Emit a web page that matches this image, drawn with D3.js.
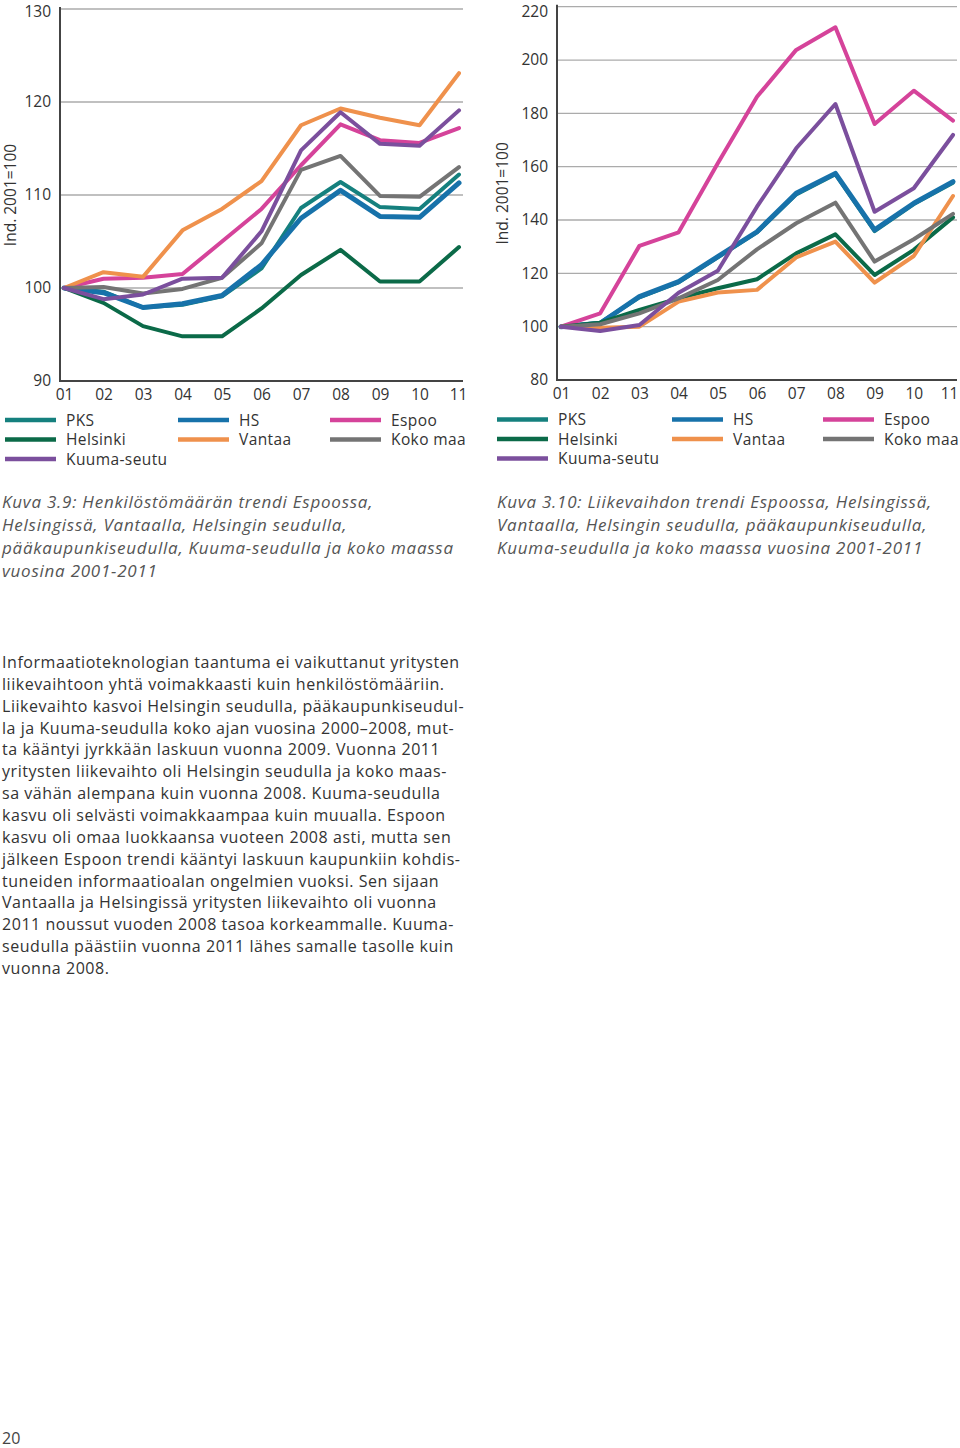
<!DOCTYPE html>
<html>
<head>
<meta charset="utf-8">
<script src="https://cdn.jsdelivr.net/npm/d3@7"></script>
<style>
  html, body { margin: 0; padding: 0; background: #fff; }
  svg { display: block; font-family: "Open Sans", "DejaVu Sans", sans-serif; }
</style>
</head>
<body>
<svg id="page" width="960" height="1448"></svg>
<script>
// vuodet 2001-2011
const years = ["01", "02", "03", "04", "05", "06", "07", "08", "09", "10", "11"];

// Kuva 3.9 henkilöstömäärä, ind. 2001=100
const staffPKS = [100, 99.6, 97.9, 98.2, 99.1, 102.1, 108.6, 111.4, 108.7, 108.5, 112.2];
const staffHS = [100, 99.5, 97.9, 98.3, 99.2, 102.5, 107.5, 110.5, 107.7, 107.6, 111.3];
const staffEspoo = [100, 101.0, 101.1, 101.5, 105.0, 108.5, 113.2, 117.6, 115.9, 115.6, 117.2];
const staffHelsinki = [100, 98.4, 95.9, 94.8, 94.8, 97.8, 101.4, 104.1, 100.7, 100.7, 104.4];
const staffVantaa = [100, 101.7, 101.2, 106.2, 108.5, 111.5, 117.5, 119.3, 118.3, 117.5, 123.1];
const staffKokoMaa = [100, 100.1, 99.4, 99.9, 101.1, 104.8, 112.7, 114.2, 109.9, 109.8, 113.0];
const staffKuuma = [100, 98.8, 99.3, 101.0, 101.1, 106.1, 114.8, 118.9, 115.5, 115.3, 119.1];

// Kuva 3.10 liikevaihto, ind. 2001=100
const salesPKS = [100, 101.5, 111.0, 116.6, 126.0, 135.4, 149.6, 157.2, 135.8, 146.0, 154.0];
const salesHS = [100, 101.3, 111.3, 116.9, 126.3, 135.6, 150.0, 157.5, 136.3, 146.3, 154.4];
const salesEspoo = [100, 105.0, 130.3, 135.4, 161.3, 186.2, 203.8, 212.3, 176.0, 188.5, 177.3];
const salesHelsinki = [100, 101.5, 106.3, 110.6, 114.4, 117.8, 127.5, 134.6, 119.4, 128.8, 141.0];
const salesVantaa = [100, 99.6, 100.0, 109.4, 112.8, 113.8, 126.0, 131.9, 116.5, 126.5, 149.0];
const salesKokoMaa = [100, 100.9, 105.0, 110.6, 117.5, 129.0, 138.8, 146.5, 124.4, 132.8, 142.3];
const salesKuuma = [100, 98.4, 100.6, 112.7, 121.0, 145.0, 166.9, 183.5, 143.1, 151.9, 171.9];

const seriesNames = ["PKS", "HS", "Espoo", "Helsinki", "Vantaa", "Koko maa", "Kuuma-seutu"];
const seriesColors = ["#15807e", "#1772aa", "#d5439a", "#0b6a48", "#ef914c", "#747474", "#7b4f9d"];
const seriesWidths = [4, 5, 4, 4, 4, 4, 4];

const staffTicks = [90, 100, 110, 120, 130];
const salesTicks = [80, 100, 120, 140, 160, 180, 200, 220];

const caption1 = [
  "Kuva 3.9: Henkilöstömäärän trendi Espoossa,",
  "Helsingissä, Vantaalla, Helsingin seudulla,",
  "pääkaupunkiseudulla, Kuuma-seudulla ja koko maassa",
  "vuosina 2001-2011"
];
const caption2 = [
  "Kuva 3.10: Liikevaihdon trendi Espoossa, Helsingissä,",
  "Vantaalla, Helsingin seudulla, pääkaupunkiseudulla,",
  "Kuuma-seudulla ja koko maassa vuosina 2001-2011"
];
const bodyLines = [
  "Informaatioteknologian taantuma ei vaikuttanut yritysten",
  "liikevaihtoon yhtä voimakkaasti kuin henkilöstömääriin.",
  "Liikevaihto kasvoi Helsingin seudulla, pääkaupunkiseudul-",
  "la ja Kuuma-seudulla koko ajan vuosina 2000–2008, mut-",
  "ta kääntyi jyrkkään laskuun vuonna 2009. Vuonna 2011",
  "yritysten liikevaihto oli Helsingin seudulla ja koko maas-",
  "sa vähän alempana kuin vuonna 2008. Kuuma-seudulla",
  "kasvu oli selvästi voimakkaampaa kuin muualla. Espoon",
  "kasvu oli omaa luokkaansa vuoteen 2008 asti, mutta sen",
  "jälkeen Espoon trendi kääntyi laskuun kaupunkiin kohdis-",
  "tuneiden informaatioalan ongelmien vuoksi. Sen sijaan",
  "Vantaalla ja Helsingissä yritysten liikevaihto oli vuonna",
  "2011 noussut vuoden 2008 tasoa korkeammalle. Kuuma-",
  "seudulla päästiin vuonna 2011 lähes samalle tasolle kuin",
  "vuonna 2008."
];

var svg = d3.select("#page");

// one line chart with its own axes and legend
function drawChart(opts) {
  var x = d3.scalePoint().domain(years).range([opts.x0, opts.x1]);
  var y = d3.scaleLinear().domain(opts.domain).range([opts.yBottom, opts.yTop]);
  var g = svg.append("g");

  // gridlines
  g.append("g")
    .selectAll("line")
    .data(opts.ticks.slice(1))
    .enter()
    .append("line")
    .attr("x1", opts.axisX)
    .attr("x2", opts.gridEnd)
    .attr("y1", (d) => y(d))
    .attr("y2", (d) => y(d))
    .attr("stroke", "#ababab")
    .attr("stroke-width", 1.3);

  // y axis
  var yAxis = g.append("g")
    .attr("transform", "translate(" + opts.axisX + ",0)")
    .call(d3.axisLeft(y).tickValues(opts.ticks).tickSize(0).tickPadding(9));
  yAxis.select(".domain").remove();
  yAxis.selectAll("text")
    .attr("font-size", 15.5)
    .attr("fill", "#333")
    .attr("dy", (d) => (d === opts.domain[1] ? opts.topDy : "0.32em"))
    .style("font-family", "'Open Sans', sans-serif");

  // x axis
  var xAxis = g.append("g")
    .attr("transform", "translate(0," + (opts.yBottom + 8) + ")")
    .call(d3.axisBottom(x).tickSize(0).tickPadding(0));
  xAxis.select(".domain").remove();
  xAxis.selectAll("text")
    .attr("font-size", 15.5)
    .attr("fill", "#333")
    .attr("dy", "0.71em")
    .attr("dx", (d, i) => (i === years.length - 1 ? opts.lastDx : 0))
    .style("font-family", "'Open Sans', sans-serif");

  // lines
  var line = d3.line()
    .x((d, i) => x(years[i]))
    .y((d) => y(d));
  g.append("g")
    .selectAll("path")
    .data(opts.series)
    .enter()
    .append("path")
    .attr("d", (d) => line(d))
    .attr("fill", "none")
    .attr("stroke", (d, i) => seriesColors[i])
    .attr("stroke-width", (d, i) => seriesWidths[i])
    .attr("stroke-linejoin", "round")
    .attr("stroke-linecap", "round");

  // axis frame
  g.append("path")
    .attr("d", "M" + opts.axisX + "," + (opts.yTop - 2) + "V" + opts.yBottom + "H" + opts.gridEnd)
    .attr("fill", "none")
    .attr("stroke", "#444")
    .attr("stroke-width", 2);

  // axis title
  g.append("text")
    .attr("transform", "translate(" + opts.titleX + "," + ((opts.yTop + opts.yBottom) / 2) + ") rotate(-90)")
    .attr("text-anchor", "middle")
    .attr("dy", "0.35em")
    .attr("font-size", 15.5)
    .attr("fill", "#333")
    .text("Ind. 2001=100");

  // legend: 3 columns, read down first column
  var legendPos = [[0, 0], [1, 0], [2, 0], [0, 1], [1, 1], [2, 1], [0, 2]];
  var lg = g.append("g")
    .selectAll("g")
    .data(seriesNames)
    .enter()
    .append("g")
    .attr("transform", (d, i) =>
      "translate(" + (opts.legendX + opts.legendCols[legendPos[i][0]]) + "," + (opts.legendY + legendPos[i][1] * 19.5) + ")");
  lg.append("line")
    .attr("x1", 0)
    .attr("x2", 51)
    .attr("stroke", (d, i) => seriesColors[i])
    .attr("stroke-width", 4.5);
  lg.append("text")
    .attr("x", 61)
    .attr("dy", "0.36em")
    .attr("font-size", 15.5)
    .attr("fill", "#333")
    .attr("letter-spacing", 0.4)
    .text((d) => d);

  // caption
  svg.append("g")
    .selectAll("text")
    .data(opts.caption)
    .enter()
    .append("text")
    .attr("x", opts.captionX)
    .attr("y", (d, i) => 508 + i * 23)
    .attr("font-size", 17)
    .attr("font-style", "italic")
    .attr("fill", "#555")
    .attr("letter-spacing", 0.75)
    .text((d) => d);
}

drawChart({
  x0: 64, x1: 459, axisX: 60, gridEnd: 463,
  yTop: 9, yBottom: 381, domain: [90, 130], ticks: staffTicks,
  titleX: 11, lastDx: -1, topDy: "0.5em",
  series: [staffPKS, staffHS, staffEspoo, staffHelsinki, staffVantaa, staffKokoMaa, staffKuuma],
  legendX: 5, legendY: 420, legendCols: [0, 173, 325],
  caption: caption1, captionX: 2
});

drawChart({
  x0: 561, x1: 953, axisX: 557, gridEnd: 957,
  yTop: 6.7, yBottom: 380, domain: [80, 220], ticks: salesTicks,
  titleX: 503, lastDx: -4, topDy: "0.62em",
  series: [salesPKS, salesHS, salesEspoo, salesHelsinki, salesVantaa, salesKokoMaa, salesKuuma],
  legendX: 497, legendY: 419.5, legendCols: [0, 175, 326],
  caption: caption2, captionX: 497
});

// body text
svg.append("g")
  .selectAll("text")
  .data(bodyLines)
  .enter()
  .append("text")
  .attr("x", 2)
  .attr("y", (d, i) => 668 + i * 21.86)
  .attr("font-size", 16)
  .attr("fill", "#333")
  .attr("letter-spacing", 0.55)
  .text((d) => d);

svg.append("text")
  .attr("x", 2)
  .attr("y", 1444)
  .attr("font-size", 16)
  .attr("fill", "#444")
  .text("20");
</script>
</body>
</html>
